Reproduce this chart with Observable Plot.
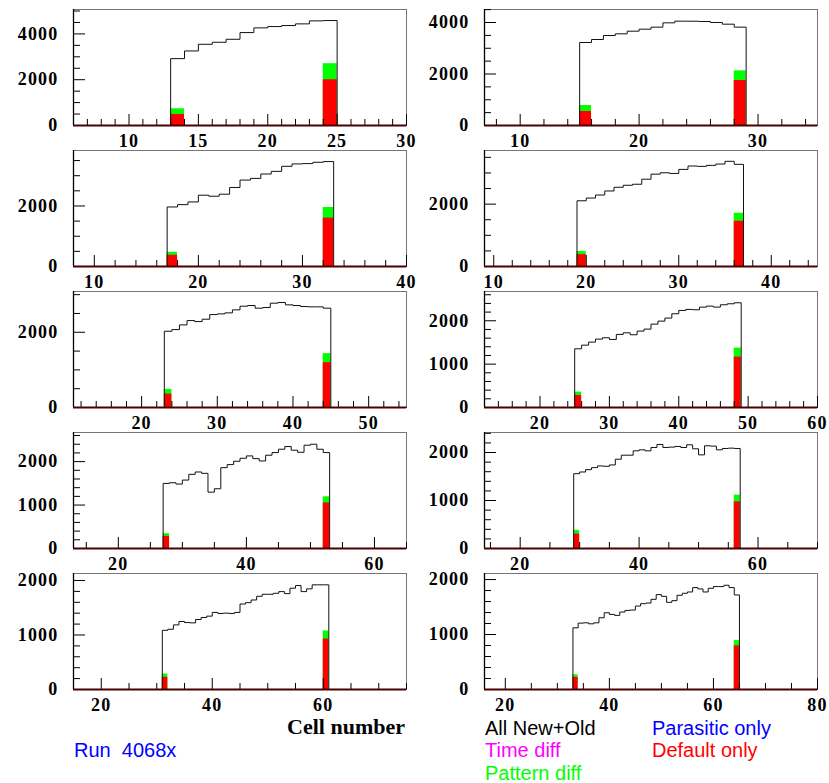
<!DOCTYPE html>
<html><head><meta charset="utf-8">
<script src="https://cdn.jsdelivr.net/npm/d3@7"></script>
<script src="https://cdn.jsdelivr.net/npm/@observablehq/plot@0.6"></script>
<style>
body{margin:0;background:#fff;}
#c{position:relative;width:829px;height:783px;overflow:hidden;background:#fff;}
#c svg{position:absolute;overflow:visible;}
</style></head><body><div id="c"></div>
<script>
// ---- data ----
const allNewOld1 = [2920,3255,3547,3635,3766,4058,4263,4321,4365,4438,4569,4584];
const allNewOld2 = [3223,3340,3495,3560,3663,3741,3819,3987,4052,4050,4039,4000,3935,3819];
const allNewOld3 = [1967,2044,2133,2356,2322,2389,2611,2856,2911,3056,3144,3311,3389,3400,3444,3467];
const allNewOld4 = [2108,2195,2292,2422,2541,2605,2638,2800,2962,3005,2984,3114,3222,3211,3243,3286,3373,3276];
const allNewOld5 = [2027,2071,2196,2311,2284,2347,2471,2489,2516,2596,2693,2711,2640,2658,2773,2791,2729,2711,2684,2676,2676,2640];
const allNewOld6 = [1354,1438,1508,1577,1608,1569,1685,1723,1677,1762,1808,1923,1992,2062,2162,2238,2262,2254,2315,2338,2315,2369,2392,2415];
const allNewOld7 = [1498,1514,1483,1575,1707,1761,1730,1297,1375,1861,1931,2008,2077,2131,2069,2015,2147,2208,2285,2347,2262,2215,2377,2400,2285,2208];
const allNewOld8 = [1559,1594,1643,1685,1720,1713,1741,1860,1944,1944,2035,2056,2035,2105,2168,2105,2112,2126,2105,2161,2077,1951,2140,2133,2056,2084,2091,2084];
const allNewOld9 = [1086,1105,1185,1247,1228,1222,1284,1321,1346,1414,1395,1401,1395,1414,1568,1593,1642,1710,1747,1747,1765,1796,1759,1858,1907,1796,1846,1920,1920,1920];
const allNewOld10 = [1122,1207,1213,1195,1213,1305,1396,1366,1348,1409,1439,1445,1518,1561,1573,1640,1726,1695,1585,1616,1713,1750,1774,1854,1829,1774,1841,1872,1872,1896,1854,1720];

const firstBin = [13,15,17,19,23,25,27,29,31,33];
const defaultFirst = [482,544,370,380,356,277,278,301,222,220];
const patternFirst = [730,777,470,480,480,354,340,378,284,268];
const defaultLast = [2000,1748,1600,1449,1191,1162,1050,972,926,793];
const patternLast = [2700,2123,1950,1708,1431,1369,1190,1112,1074,890];

// axes
const xLo = [6,7,8,9,11,12,13,14,15,16];
const xHi = [30,35,40,45,55,60,65,70,75,80];
const xLabels = [[10,15,20,25,30],[10,20,30],[10,20,30,40],[10,20,30,40],[20,30,40,50],[20,30,40,50,60],[20,40,60],[20,40,60],[20,40,60],[20,40,60,80]];
const xMinorStep = [1,2,2,2,2,2,5,5,5,5];
const yTop = [5066,4505,3833,3720,3084,2675,2670,2417,2128,2110];
const yLabels = [[0,2000,4000],[0,2000,4000],[0,2000],[0,2000],[0,2000],[0,1000,2000],[0,1000,2000],[0,1000,2000],[0,1000,2000],[0,1000,2000]];
const yMinorStep = [500,500,500,500,500,200,200,200,200,200];

const allSeries = [allNewOld1,allNewOld2,allNewOld3,allNewOld4,allNewOld5,allNewOld6,allNewOld7,allNewOld8,allNewOld9,allNewOld10];

// ---- drawing ----
const container = document.getElementById("c");
const FW = 333, FH = 116;

for (let i = 0; i < 10; i++) {
  const row = Math.floor(i / 2), col = i % 2;
  const vals = allSeries[i];
  const a = firstBin[i], b = a + vals.length;
  const steps = [{x: xLo[i], y: 0}, {x: a, y: 0}, ...vals.map((v, k) => ({x: a + k, y: v})), {x: b, y: 0}, {x: xHi[i], y: 0}];
  const bars = [
    {x1: a, x2: a + 1, g: patternFirst[i], r: defaultFirst[i]},
    {x1: b - 1, x2: b, g: patternLast[i], r: defaultLast[i]}
  ];
  const xMajor = xLabels[i];
  const xMinor = d3.range(Math.ceil(xLo[i] / xMinorStep[i]) * xMinorStep[i], xHi[i] + 1e-9, xMinorStep[i]).filter(t => !xMajor.includes(t) && t > xLo[i]);
  const yMajor = yLabels[i];
  const yMinor = d3.range(0, yTop[i], yMinorStep[i]).filter(t => !yMajor.includes(t));

  const ml = col === 0 ? 73 : 70, mr = col === 0 ? 9 : 12;
  const plot = Plot.plot({
    width: 415, height: 141,
    marginLeft: ml, marginRight: mr, marginTop: 9, marginBottom: 16,
    x: {domain: [xLo[i], xHi[i]]},
    y: {domain: [0, yTop[i]]},
    style: {
      fontFamily: '"Liberation Serif","Times New Roman",serif',
      fontSize: "18px", fontWeight: "bold", letterSpacing: "1.2px",
      background: "transparent", overflow: "visible"
    },
    marks: [
      Plot.frame({stroke: "#777", strokeWidth: 1}),
      Plot.rectY(bars, {x1: "x1", x2: "x2", y1: 0, y2: "g", fill: "#00ff00"}),
      Plot.rectY(bars, {x1: "x1", x2: "x2", y1: 0, y2: "r", fill: "#ff0000"}),
      Plot.line(steps, {x: "x", y: "y", curve: "step-after", stroke: "#111", strokeWidth: 1}),
      Plot.tickX(xMinor, {x: d => d, stroke: "#000", insetTop: FH - 6}),
      Plot.tickX(xMajor, {x: d => d, stroke: "#000", insetTop: FH - 11}),
      Plot.tickY(yMinor, {y: d => d, stroke: "#000", insetRight: FW - 7}),
      Plot.tickY(yMajor, {y: d => d, stroke: "#000", insetRight: FW - 12}),
      Plot.ruleX([xLo[i]], {stroke: "#000", strokeWidth: 1.3}),
      Plot.ruleY([0], {stroke: "#4a0000", strokeWidth: 2}),
      Plot.axisX(xMajor, {tickSize: 0, tickPadding: 9, tickFormat: d => String(d), label: null}),
      Plot.axisY(yMajor, {tickSize: 0, tickPadding: 15, tickFormat: d => String(d), label: null})
    ]
  });
  plot.style.left = (col * 414) + "px";
  plot.style.top = (row * 141) + "px";
  container.appendChild(plot);
}

// ---- titles / legend text ----
const texts = [
  {t: "Cell number", x: 405, y: 734, c: "#000", anchor: "end", font: '"Liberation Serif","Times New Roman",serif', size: 22, weight: "bold"},
  {t: "Run  4068x", x: 74, y: 757, c: "#0000ff"},
  {t: "All New+Old", x: 485, y: 735, c: "#000"},
  {t: "Parasitic only", x: 652, y: 735, c: "#0000ff"},
  {t: "Time diff", x: 485, y: 757, c: "#ff00ff"},
  {t: "Default only", x: 652, y: 757, c: "#ff0000"},
  {t: "Pattern diff", x: 485, y: 780, c: "#00ff00"}
];
const ov = d3.select(container).append("svg")
  .attr("width", 829).attr("height", 783)
  .style("left", "0px").style("top", "0px").style("pointer-events", "none");
ov.selectAll("text").data(texts).join("text")
  .attr("x", d => d.x).attr("y", d => d.y)
  .attr("fill", d => d.c)
  .attr("text-anchor", d => d.anchor || "start")
  .attr("font-family", d => d.font || '"Liberation Sans",Arial,sans-serif')
  .attr("font-size", d => d.size || 20)
  .attr("font-weight", d => d.weight || "normal")
  .style("white-space", "pre")
  .attr("xml:space", "preserve")
  .text(d => d.t);
</script>
</body></html>
